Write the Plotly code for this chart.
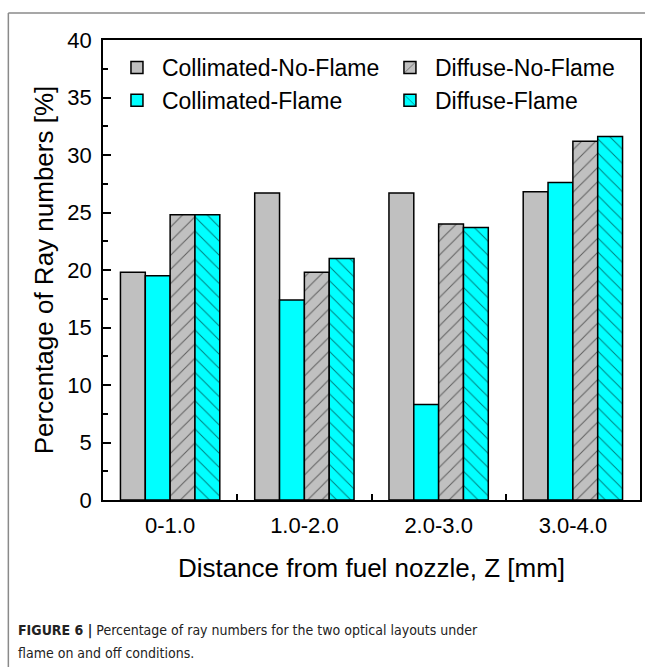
import plotly.graph_objects as go

categories = ["0-1.0", "1.0-2.0", "2.0-3.0", "3.0-4.0"]
collimated_no_flame = [19.8, 26.7, 26.7, 26.8]
collimated_flame = [19.5, 17.4, 8.3, 27.6]
diffuse_no_flame = [24.8, 19.8, 24.0, 31.2]
diffuse_flame = [24.8, 21.0, 23.7, 31.6]

GRAY = "#c0c0c0"
CYAN = "#00ffff"
FONT = "Liberation Sans, Arial, sans-serif"

W, H = 647, 667
L, R, T, B = 103, 5, 40, 167
pw, ph = W - L - R, H - T - B


def px(x):
    return (x - L) / pw


def py(y):
    return (H - B - y) / ph


fig = go.Figure()
series = [
    ("Collimated-No-Flame", collimated_no_flame, GRAY, "", "legend"),
    ("Collimated-Flame", collimated_flame, CYAN, "", "legend"),
    ("Diffuse-No-Flame", diffuse_no_flame, GRAY, "/", "legend2"),
    ("Diffuse-Flame", diffuse_flame, CYAN, "\\", "legend2"),
]
for name, vals, col, pat, leg in series:
    fig.add_trace(go.Bar(
        x=categories, y=vals, name=name, legend=leg,
        marker=dict(
            color=col,
            line=dict(color="black", width=1.5),
            pattern=dict(shape=pat, fgcolor="black", size=10, solidity=0.1,
                         fillmode="overlay"),
        ),
    ))

legend_common = dict(
    orientation="v", yanchor="top", xanchor="left",
    font=dict(size=23, family=FONT), bgcolor="rgba(0,0,0,0)",
    itemwidth=40, tracegroupgap=0, traceorder="normal",
)

fig.update_layout(
    width=W, height=H,
    margin=dict(l=L, r=R, t=T, b=B),
    paper_bgcolor="white", plot_bgcolor="white",
    font=dict(family=FONT, color="black"),
    barmode="group", bargap=0.26, bargroupgap=0,
    showlegend=True,
    legend=dict(x=px(112), y=py(46), **legend_common),
    legend2=dict(x=px(386), y=py(46), **legend_common),
    xaxis=dict(
        range=[-0.5, 3.5], showline=True, linecolor="black", linewidth=1.5,
        mirror=True, ticks="inside", tickson="boundaries", ticklen=6,
        tickcolor="black", tickwidth=1.5, ticklabelstandoff=5,
        tickfont=dict(size=22), showgrid=False,
        title=dict(text="Distance from fuel nozzle, Z [mm]",
                   font=dict(size=26), standoff=22),
    ),
    yaxis=dict(
        range=[0, 40], dtick=5, showline=True, linecolor="black", linewidth=1.5,
        mirror=True, ticks="inside", ticklen=8, tickcolor="black", tickwidth=1.5,
        ticklabelstandoff=5,
        minor=dict(dtick=2.5, ticks="inside", ticklen=5, tickcolor="black",
                   tickwidth=1.5, showgrid=False),
        tickfont=dict(size=22), showgrid=False, zeroline=False,
        title=dict(text="Percentage of Ray numbers [%]", font=dict(size=26),
                   standoff=6),
    ),
)

# page frame lines
fig.add_shape(type="line", xref="paper", yref="paper",
              x0=px(8), x1=px(647), y0=py(13), y1=py(13),
              line=dict(color="#8a8a8a", width=1.5))
fig.add_shape(type="line", xref="paper", yref="paper",
              x0=px(8), x1=px(8), y0=py(13), y1=py(667),
              line=dict(color="#8a8a8a", width=1.5))

caption_font = dict(family="DejaVu Sans Condensed, Liberation Sans Narrow, sans-serif",
                    size=14, color="#222222")
caption_lines = [
    "<b>FIGURE 6 |</b> Percentage of ray numbers for the two optical layouts under",
    "flame on and off conditions.",
]
for i, line in enumerate(caption_lines):
    fig.add_annotation(
        xref="paper", yref="paper", x=px(16), y=py(630 + 23 * i),
        xanchor="left", yanchor="middle", align="left", showarrow=False,
        text=line, font=caption_font,
    )

fig.write_html("out.html")
